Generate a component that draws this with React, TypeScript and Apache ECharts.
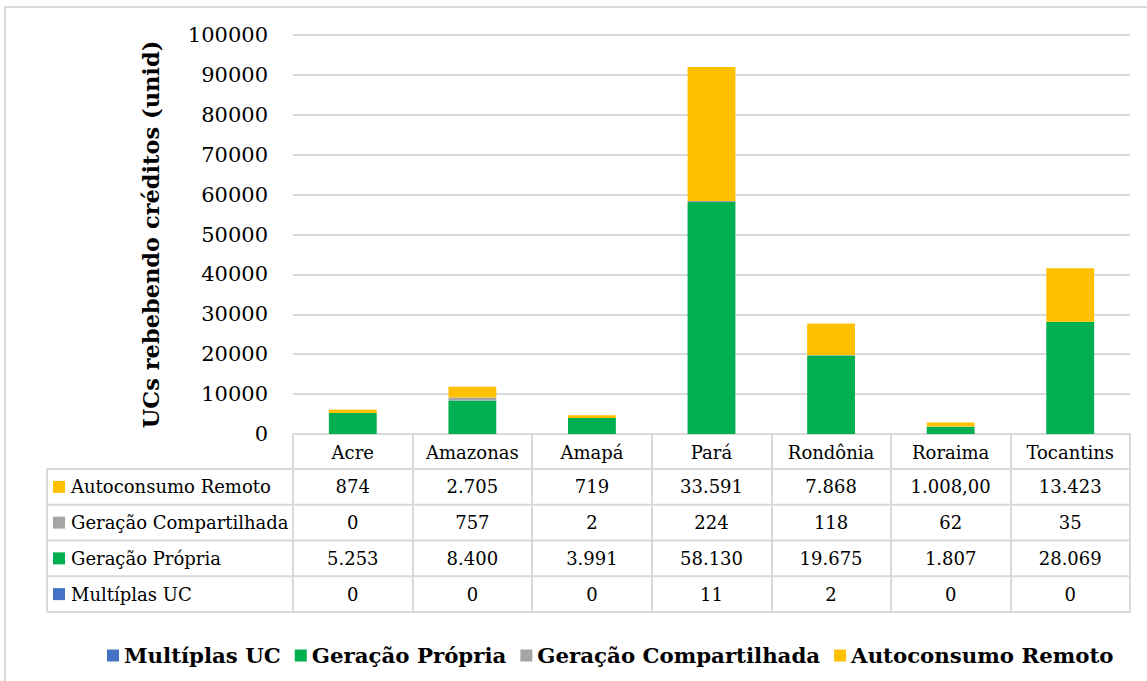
import React, { useEffect, useRef } from "react";
import * as echarts from "echarts";

const categories = ["Acre", "Amazonas", "Amapá", "Pará", "Rondônia", "Roraima", "Tocantins"];
// values as printed in the data table
const autoconsumoRemoto = ["874", "2.705", "719", "33.591", "7.868", "1.008,00", "13.423"];
const geracaoCompartilhada = ["0", "757", "2", "224", "118", "62", "35"];
const geracaoPropria = ["5.253", "8.400", "3.991", "58.130", "19.675", "1.807", "28.069"];
const multiplasUC = ["0", "0", "0", "11", "2", "0", "0"];
const yMin = 0;
const yMax = 100000;
const yInterval = 10000;

const parseBR = (s: string) => parseFloat(s.replace(/\./g, "").replace(",", "."));

const FONT = "DejaVu Serif";
const GRID_COLOR = "#D9D9D9";

const seriesDefs = [
  { name: "Multíplas UC", color: "#4472C4", values: multiplasUC },
  { name: "Geração Própria", color: "#00B050", values: geracaoPropria },
  { name: "Geração Compartilhada", color: "#A5A5A5", values: geracaoCompartilhada },
  { name: "Autoconsumo Remoto", color: "#FFC000", values: autoconsumoRemoto },
];
// table row order (top to bottom)
const tableRows = [seriesDefs[3], seriesDefs[2], seriesDefs[1], seriesDefs[0]];

export default function App() {
  const ref = useRef<HTMLDivElement>(null);
  useEffect(() => {
    document.body.style.margin = "0";
    if (!ref.current) return;
    const chart = echarts.init(ref.current, undefined, { renderer: "svg" });
    const gridLeft = 293;
    const gridRight = 1130;
    const gridTop = 35;
    const gridBottom = 434;
    const tableLeft = 47;
    const rowTop = 469;
    const rowH = 35.75;
    const tableBottom = rowTop + rowH * tableRows.length;

    chart.setOption({
      animation: false,
      backgroundColor: "#ffffff",
      textStyle: { fontFamily: FONT },
      grid: {
        left: gridLeft,
        right: 1147 - gridRight,
        top: gridTop,
        bottom: 681 - gridBottom,
        containLabel: false,
      },
      legend: {
        left: 102,
        top: 640,
        itemWidth: 12,
        itemHeight: 12,
        itemGap: 14,
        icon: "rect",
        textStyle: { fontFamily: FONT, fontSize: 21.3, fontWeight: "bold", color: "#000" },
        data: seriesDefs.map((s) => s.name),
      },
      xAxis: {
        type: "category",
        data: categories,
        axisLine: { show: true, lineStyle: { color: GRID_COLOR, width: 2 } },
        axisTick: {
          show: true,
          interval: 0,
          length: tableBottom - gridBottom,
          lineStyle: { color: GRID_COLOR, width: 2 },
        },
        axisLabel: {
          interval: 0,
          margin: 7,
          fontFamily: FONT,
          fontSize: 18,
          lineHeight: 22,
          color: "#000",
        },
      },
      yAxis: {
        type: "value",
        min: yMin,
        max: yMax,
        interval: yInterval,
        name: "UCs rebebendo créditos (unid)",
        nameLocation: "middle",
        nameRotate: 90,
        nameGap: 131,
        nameTextStyle: { fontFamily: FONT, fontSize: 22.5, fontWeight: "bold", color: "#000" },
        axisLine: { show: false },
        axisTick: { show: false },
        axisLabel: {
          margin: 25,
          fontFamily: FONT,
          fontSize: 21,
          color: "#000",
          formatter: (v: number) => String(v),
        },
        splitLine: { lineStyle: { color: GRID_COLOR, width: 2 } },
      },
      series: seriesDefs.map((s) => ({
        name: s.name,
        type: "bar",
        stack: "total",
        barWidth: "40%",
        itemStyle: { color: s.color },
        data: s.values.map(parseBR),
      })),
    });

    const centers = categories.map((c) => chart.convertToPixel({ xAxisIndex: 0 }, c) as number);
    const graphic: any[] = [];
    // outer chart border
    graphic.push({
      type: "rect",
      shape: { x: 5, y: 7, width: 1200, height: 700 },
      style: { fill: "none", stroke: GRID_COLOR, lineWidth: 2 },
      silent: true,
    });
    // table horizontal lines
    for (let i = 0; i <= tableRows.length; i++) {
      const y = rowTop + rowH * i;
      graphic.push({
        type: "line",
        shape: { x1: tableLeft, y1: y, x2: gridRight, y2: y },
        style: { stroke: GRID_COLOR, lineWidth: 2 },
        silent: true,
      });
    }
    graphic.push({
      type: "line",
      shape: { x1: tableLeft, y1: rowTop, x2: tableLeft, y2: tableBottom },
      style: { stroke: GRID_COLOR, lineWidth: 2 },
      silent: true,
    });
    tableRows.forEach((row, i) => {
      const cy = rowTop + rowH * i + rowH / 2;
      graphic.push({
        type: "rect",
        shape: { x: 53, y: cy - 6, width: 12, height: 12 },
        style: { fill: row.color },
        silent: true,
      });
      graphic.push({
        type: "text",
        x: 71,
        y: cy,
        style: {
          text: row.name,
          fill: "#000",
          fontFamily: FONT,
          fontSize: 18,
          align: "left",
          verticalAlign: "middle",
        },
        silent: true,
      });
      row.values.forEach((v, j) => {
        graphic.push({
          type: "text",
          x: centers[j],
          y: cy,
          style: {
            text: v,
            fill: "#000",
            fontFamily: FONT,
            fontSize: 18,
            align: "center",
            verticalAlign: "middle",
          },
          silent: true,
        });
      });
    });
    chart.setOption({ graphic });

    return () => chart.dispose();
  }, []);
  return <div ref={ref} style={{ width: 1147, height: 681 }} />;
}
